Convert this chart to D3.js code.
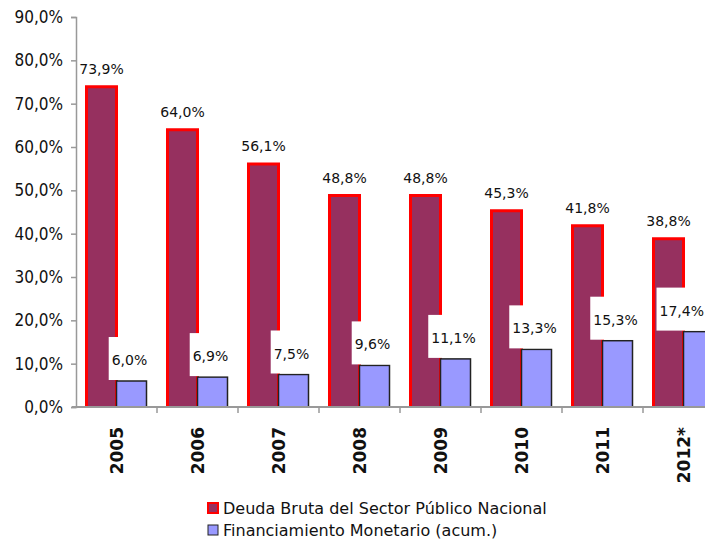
<!DOCTYPE html>
<html>
<head>
<meta charset="utf-8">
<script src="https://cdn.jsdelivr.net/npm/d3@7"></script>
<style>
  body { margin: 0; background: #fff; }
  svg { display: block; }
  text { font-family: "DejaVu Sans", sans-serif; fill: #111; }
</style>
</head>
<body>
<div id="chart"></div>
<script>
// Chart data
var years = ["2005", "2006", "2007", "2008", "2009", "2010", "2011", "2012*"];
var deuda = [73.9, 64.0, 56.1, 48.8, 48.8, 45.3, 41.8, 38.8];
var financiamiento = [6.0, 6.9, 7.5, 9.6, 11.1, 13.3, 15.3, 17.4];
var yTicks = [0, 10, 20, 30, 40, 50, 60, 70, 80, 90];
var seriesNames = ["Deuda Bruta del Sector Público Nacional", "Financiamiento Monetario (acum.)"];

// SVG size
var svgWdt = 705;
var svgHgt = 554;

// Plot area edges
var plotLeft = 76;
var plotTop = 17;
var plotBot = 407;
var bandWdt = 81;

var fmt = v => v.toFixed(1).replace(".", ",") + "%";

var svg = d3.select("#chart").append("svg")
    .attr("width", svgWdt)
    .attr("height", svgHgt);

// Scales
var xScale = d3.scaleBand()
    .domain(years)
    .range([plotLeft, plotLeft + bandWdt * years.length])
    .padding(0);

var subScale = d3.scaleBand()
    .domain(["deuda", "fin"])
    .range([0, xScale.bandwidth()])
    .paddingInner(0)
    .paddingOuter(0.35);

var yScale = d3.scaleLinear()
    .domain([0, 90])
    .range([plotBot, plotTop]);

// Y axis
var lftRule = d3.axisLeft(yScale)
    .tickValues(yTicks)
    .tickSize(5)
    .tickFormat(d => fmt(d));

var yAxis = svg.append("g")
    .attr("transform", `translate(${plotLeft}, 0)`)
    .call(lftRule);
yAxis.select(".domain").attr("stroke", "#999").attr("stroke-width", 1.5);
yAxis.selectAll(".tick line").attr("stroke", "#999").attr("stroke-width", 1.5);
yAxis.selectAll(".tick text")
    .attr("x", -13)
    .attr("fill", "#111")
    .style("font-size", "17px")
    .style("font-family", "'DejaVu Sans Condensed', sans-serif");

// Bars: deuda (fill + outline without bottom edge)
var dGrp = svg.selectAll(".dBar").data(deuda)
    .enter()
    .append("g")
        .attr("class", "dBar");

dGrp.append("rect")
    .attr("x", (d, i) => xScale(years[i]) + subScale("deuda"))
    .attr("y", d => yScale(d))
    .attr("width", subScale.bandwidth())
    .attr("height", d => plotBot - yScale(d))
    .attr("fill", "#96305F");

dGrp.append("path")
    .attr("d", (d, i) => {
        var x0 = xScale(years[i]) + subScale("deuda");
        var x1 = x0 + subScale.bandwidth();
        return `M${x0},${plotBot}V${yScale(d)}H${x1}V${plotBot}`;
    })
    .attr("fill", "none")
    .attr("stroke", "#FF0000")
    .attr("stroke-width", 3);

// Bars: financiamiento
var fBars = svg.selectAll(".fBar").data(financiamiento)
    .enter()
    .append("rect")
        .attr("class", "fBar")
        .attr("x", (d, i) => xScale(years[i]) + subScale("fin"))
        .attr("y", d => yScale(d))
        .attr("width", subScale.bandwidth())
        .attr("height", d => plotBot - yScale(d))
        .attr("fill", "#9999FF")
        .attr("stroke", "#222")
        .attr("stroke-width", 1.5);

// X axis
var botRule = d3.axisBottom(xScale).tickSize(0).tickFormat("");
var xAxis = svg.append("g")
    .attr("transform", `translate(0, ${plotBot})`)
    .call(botRule);
xAxis.select(".domain").attr("stroke", "#999").attr("stroke-width", 2)
    .attr("d", `M${plotLeft - 4},0H${svgWdt + 20}`);

// Tick marks between categories
svg.selectAll(".xTick").data(years.slice(1))
    .enter()
    .append("line")
        .attr("class", "xTick")
        .attr("x1", d => xScale(d))
        .attr("x2", d => xScale(d))
        .attr("y1", plotBot)
        .attr("y2", plotBot + 6)
        .attr("stroke", "#999")
        .attr("stroke-width", 1.5);

// Year labels (rotated)
svg.selectAll(".yrLbl").data(years)
    .enter()
    .append("text")
        .attr("class", "yrLbl")
        .attr("transform", d => `translate(${xScale(d) + xScale.bandwidth() / 2 + 6}, 427) rotate(-90)`)
        .attr("text-anchor", "end")
        .style("font-weight", "bold")
        .style("font-size", "17px")
        .text(d => d);

// Deuda labels above bars
svg.selectAll(".dLbl").data(deuda)
    .enter()
    .append("text")
        .attr("class", "dLbl")
        .attr("x", (d, i) => xScale(years[i]) + subScale("deuda") + subScale.bandwidth() / 2)
        .attr("y", d => yScale(d) - 13)
        .attr("text-anchor", "middle")
        .style("font-size", "14px")
        .text(d => fmt(d));

// Financiamiento labels in white boxes
var fLblGrp = svg.selectAll(".fLbl").data(financiamiento)
    .enter()
    .append("g")
        .attr("class", "fLbl");

fLblGrp.append("rect").attr("fill", "#fff");
fLblGrp.append("text")
    .attr("text-anchor", "middle")
    .style("font-size", "14px")
    .text(d => fmt(d));

fLblGrp.each(function(d, i) {
    var g = d3.select(this);
    var t = g.select("text");
    var w = t.node().getComputedTextLength();
    var cx = xScale(years[i]) + subScale("fin") + subScale.bandwidth() / 2 - 2;
    cx = Math.min(cx, svgWdt - w / 2 - 1);
    var top = yScale(d);
    t.attr("x", cx).attr("y", top - 16);
    g.select("rect")
        .attr("x", cx - w / 2 - 3)
        .attr("y", top - 44)
        .attr("width", w + 6)
        .attr("height", 43);
});

// Legend
var legend = svg.append("g");
var legRows = legend.selectAll("g").data(seriesNames)
    .enter()
    .append("g")
        .attr("transform", (d, i) => `translate(208, ${503 + i * 22})`);

legRows.append("rect")
    .attr("width", 10)
    .attr("height", 10)
    .attr("fill", (d, i) => i == 0 ? "#96305F" : "#9999FF")
    .attr("stroke", (d, i) => i == 0 ? "#FF0000" : "#222")
    .attr("stroke-width", (d, i) => i == 0 ? 2 : 1);

legRows.append("text")
    .attr("x", 15)
    .attr("y", 11)
    .style("font-size", "16px")
    .text(d => d);
</script>
</body>
</html>
